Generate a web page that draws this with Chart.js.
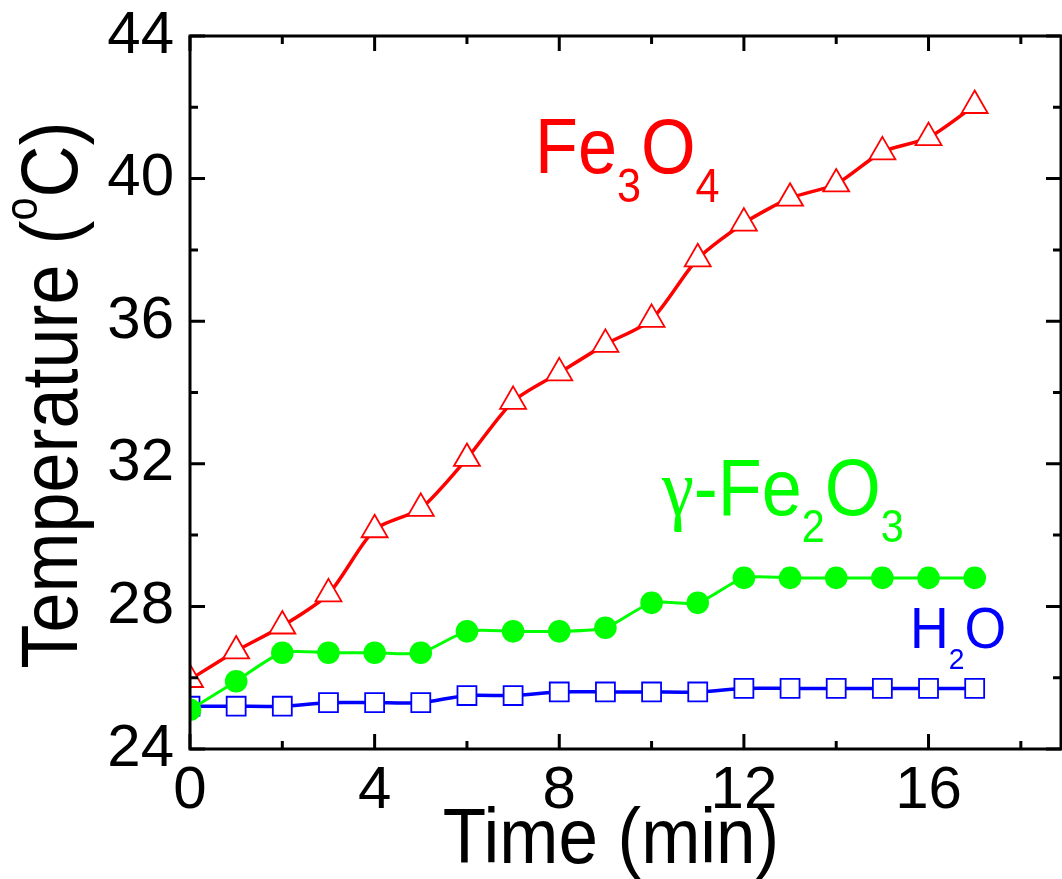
<!DOCTYPE html>
<html>
<head>
<meta charset="utf-8">
<script src="https://cdn.jsdelivr.net/npm/chart.js@4"></script>
<style>
  html, body { margin: 0; padding: 0; background: #fff; }
  canvas { display: block; }
</style>
</head>
<body>
<canvas id="chart" width="1062" height="879"></canvas>
<script>
// time in minutes
const times = [0, 1, 2, 3, 4, 5, 6, 7, 8, 9, 10, 11, 12, 13, 14, 15, 16, 17];
// temperatures (deg C)
const fe3o4 = [25.95, 26.75, 27.45, 28.35, 30.15, 30.75, 32.15, 33.75, 34.55, 35.35, 36.05, 37.75, 38.75, 39.45, 39.85, 40.75, 41.15, 42.05];
const gammaFe2o3 = [25.1, 25.9, 26.7, 26.7, 26.7, 26.7, 27.3, 27.3, 27.3, 27.4, 28.1, 28.1, 28.8, 28.8, 28.8, 28.8, 28.8, 28.8];
const water = [25.2, 25.2, 25.2, 25.3, 25.3, 25.3, 25.5, 25.5, 25.6, 25.6, 25.6, 25.6, 25.7, 25.7, 25.7, 25.7, 25.7, 25.7];

const xTicks = [0, 4, 8, 12, 16];
const xMinor = [2, 6, 10, 14, 18];
const yTicks = [24, 28, 32, 36, 40, 44];
const yMinor = [26, 30, 34, 38, 42];

const FONT = "'Liberation Sans', Arial, sans-serif";

function toPoints(ys) {
    return times.map((t, i) => ({ x: t, y: ys[i] }));
}

// draw a run of text pieces (for sub/superscripts), condensed by sx
function drawRich(ctx, x, y, parts, sx, align) {
    ctx.save();
    ctx.translate(x, y);
    ctx.scale(sx, 1);
    ctx.textBaseline = 'alphabetic';
    ctx.textAlign = 'left';
    let total = 0;
    parts.forEach(p => {
        ctx.font = p.font;
        p.w = ctx.measureText(p.t).width;
        total += p.w;
    });
    let cx = align === 'center' ? -total / 2 : 0;
    parts.forEach(p => {
        ctx.font = p.font;
        ctx.fillStyle = p.color;
        ctx.fillText(p.t, cx, p.dy || 0);
        cx += p.w;
    });
    ctx.restore();
}

const framePlugin = {
    id: 'frame',
    afterLayout(chart) {
        // stretch the plot to the right edge like the original figure
        const xs = chart.scales.x;
        const right = chart.width - 1;
        xs.right = right;
        xs.width = right - xs.left;
        chart.chartArea.right = right;
        chart.chartArea.width = right - chart.chartArea.left;
        xs.configure();
    },
    afterDatasetsDraw(chart) {
        const ctx = chart.ctx;
        const { left, right, top, bottom } = chart.chartArea;
        const xs = chart.scales.x, ys = chart.scales.y;
        ctx.save();
        ctx.strokeStyle = '#000';
        ctx.lineWidth = 3;
        ctx.strokeRect(left, top, right - left, bottom - top);
        const tick = (vals, len) => {
            vals.forEach(v => {
                const px = xs.getPixelForValue(v);
                if (px > right + 1) return;
                ctx.beginPath();
                ctx.moveTo(px, bottom); ctx.lineTo(px, bottom - len);
                ctx.moveTo(px, top); ctx.lineTo(px, top + len);
                ctx.stroke();
            });
        };
        const ytick = (vals, len) => {
            vals.forEach(v => {
                const py = ys.getPixelForValue(v);
                ctx.beginPath();
                ctx.moveTo(left, py); ctx.lineTo(left + len, py);
                ctx.moveTo(right, py); ctx.lineTo(right - len, py);
                ctx.stroke();
            });
        };
        tick(xTicks, 15);
        tick(xMinor, 8);
        ytick(yTicks, 15);
        ytick(yMinor, 8);
        ctx.restore();
    },
    afterDraw(chart) {
        const ctx = chart.ctx;
        const big = (s) => s + 'px ' + FONT;

        // axis titles
        drawRich(ctx, 611, 863, [{ t: 'Time (min)', font: big(78), color: '#000' }], 0.91, 'center');
        ctx.save();
        ctx.translate(77, 395);
        ctx.rotate(-Math.PI / 2);
        drawRich(ctx, 0, 0, [
            { t: 'Temperature (', font: big(80), color: '#000' },
            { t: 'o', font: big(46), color: '#000', dy: -40 },
            { t: 'C)', font: big(80), color: '#000' }
        ], 0.9, 'center');
        ctx.restore();

        // series labels
        const red = '#ff0000', green = '#00ff00', blue = '#0000ff';
        drawRich(ctx, 535, 173, [
            { t: 'Fe', font: big(78), color: red },
            { t: '3', font: big(48), color: red, dy: 29 },
            { t: 'O', font: big(78), color: red },
            { t: '4', font: big(48), color: red, dy: 29 }
        ], 0.9);
        drawRich(ctx, 662, 515, [
            { t: '\u03b3', font: "80px 'Liberation Serif', 'DejaVu Serif', serif", color: green },
            { t: '-Fe', font: big(80), color: green },
            { t: '2', font: big(46), color: green, dy: 27 },
            { t: 'O', font: big(80), color: green },
            { t: '3', font: big(46), color: green, dy: 27 }
        ], 0.9);
        drawRich(ctx, 910, 648, [
            { t: 'H', font: big(57), color: blue },
            { t: '2', font: big(30), color: blue, dy: 21 },
            { t: 'O', font: big(57), color: blue }
        ], 0.94);
    }
};

new Chart(document.getElementById('chart'), {
    type: 'line',
    data: {
        datasets: [
            {
                label: 'γ-Fe2O3',
                data: toPoints(gammaFe2o3),
                borderColor: '#00ff00',
                borderWidth: 3,
                backgroundColor: '#00ff00',
                pointStyle: 'circle',
                pointRadius: 11.3,
                pointBackgroundColor: '#00ff00',
                pointBorderColor: '#00ff00',
                pointBorderWidth: 0,
                tension: 0.25
            },
            {
                label: 'Fe3O4',
                data: toPoints(fe3o4),
                borderColor: '#ff0000',
                borderWidth: 3.5,
                pointStyle: 'triangle',
                pointRadius: 15,
                pointBackgroundColor: '#ffffff',
                pointBorderColor: '#ff0000',
                pointBorderWidth: 1.8,
                tension: 0.25
            },
            {
                label: 'H2O',
                data: toPoints(water),
                borderColor: '#0000ff',
                borderWidth: 3.5,
                pointStyle: 'rect',
                pointRadius: 13.4,
                pointBackgroundColor: '#ffffff',
                pointBorderColor: '#0000ff',
                pointBorderWidth: 1.8,
                tension: 0.25
            }
        ]
    },
    options: {
        responsive: false,
        devicePixelRatio: 1,
        animation: false,
        layout: { padding: { top: 36, right: 1, left: 0, bottom: 0 } },
        plugins: { legend: { display: false }, tooltip: { enabled: false } },
        scales: {
            x: {
                type: 'linear',
                min: 0,
                max: 18.87,
                grid: { display: false },
                border: { display: false },
                afterBuildTicks: s => { s.ticks = xTicks.map(v => ({ value: v })); },
                afterFit: s => {
                    s.height = 130;
                    s.paddingLeft = 0; s.paddingRight = 0;
                },
                ticks: {
                    color: '#000',
                    font: { family: FONT, size: 60, lineHeight: 1 },
                    padding: 4,
                    maxRotation: 0,
                    autoSkip: false
                }
            },
            y: {
                min: 24,
                max: 44,
                grid: { display: false },
                border: { display: false },
                afterBuildTicks: s => { s.ticks = yTicks.map(v => ({ value: v })); },
                afterFit: s => {
                    s.width = 190;
                    s.paddingTop = 0; s.paddingBottom = 0;
                },
                ticks: {
                    color: '#000',
                    font: { family: FONT, size: 60, lineHeight: 1 },
                    padding: 8,
                    autoSkip: false
                }
            }
        }
    },
    plugins: [framePlugin]
});
</script>
</body>
</html>
